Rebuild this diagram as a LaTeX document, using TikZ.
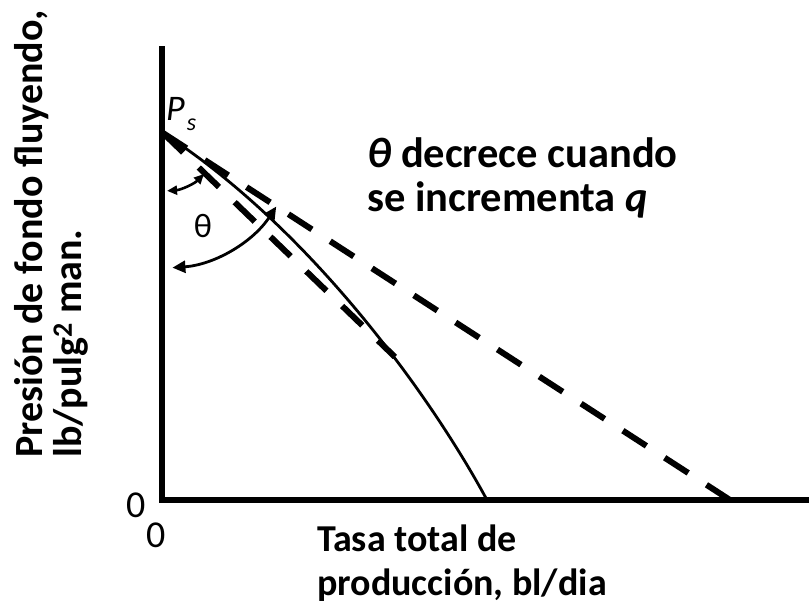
\documentclass[tikz,border=0pt]{standalone}
\usepackage{fontspec}
\setmainfont{Carlito}
\usetikzlibrary{arrows.meta}
\begin{document}
\begin{tikzpicture}[x=1pt,y=-1pt,
  axisline/.style={line width=6pt, line join=miter},
  tangent/.style={line width=6pt, dash pattern=on 28pt off 21.8pt},
  ipr/.style={line width=2.8pt},
  bigarrow/.style={line width=2.8pt, {Triangle[length=13pt,width=12pt]}-{Triangle[length=13pt,width=12pt]}},
  smallarrow/.style={line width=2.6pt, {Triangle[length=10pt,width=9pt]}-{Triangle[length=10pt,width=9pt]}},
  lbl/.style={font=\fontsize{40}{46}\selectfont\bfseries, inner sep=0pt, anchor=base west},
  xlbl/.style={font=\fontsize{38}{44}\selectfont\bfseries, inner sep=0pt, anchor=base west},
  note/.style={font=\fontsize{42.5}{48}\selectfont\bfseries, inner sep=0pt, anchor=base west},
  num/.style={font=\fontsize{38}{44}\selectfont, inner sep=0pt, anchor=base west}
]
\useasboundingbox (0,0) rectangle (809,616);
% points
\coordinate (top) at (162,46);
\coordinate (orig) at (162,500);
\coordinate (right) at (815,500);
\coordinate (Ps) at (163,133);
\coordinate (qmax) at (487,500);
\coordinate (qlong) at (730,500);
\coordinate (qsteep) at (395,357);
% axes
\draw[axisline] (top) -- (orig) -- (right);
% tangent lines
\draw[tangent] (Ps) -- (qlong);
\draw[tangent] (Ps) -- (qsteep);
% IPR curve
\draw[ipr] (Ps) .. controls (313,230) and (433,400) .. (qmax);
% angle arrows
\draw[bigarrow] ([shift={(33:135)}]Ps) arc[start angle=33, end angle=86, radius=135];
\draw[smallarrow] ([shift={(45:58)}]Ps) arc[start angle=45, end angle=86, radius=58];
% labels
\node[font=\fontsize{34}{40}\selectfont, inner sep=0pt] (th) at (203,226) {θ};
\node[inner sep=0pt, anchor=base west] (pslbl) at (166,120) {\fontsize{36}{40}\selectfont\itshape P\hspace{2pt}\raisebox{-10pt}{\fontsize{24}{28}\selectfont s}};
\node[note] (t1) at (367,167) {\textit{θ} decrece cuando};
\node[note] (t2) at (367,211) {se incrementa \textit{q}};
\node[xlbl] (x1) at (317,551) {Tasa total de};
\node[xlbl] (x2) at (317,595) {producción, bl/dia};
\node[lbl, rotate=90] (y1) at (42,458) {Presión de fondo fluyendo,};
\node[lbl, rotate=90] (y2) at (81,458) {lb/pulg\textsuperscript{2} man.};
\node[num] (z1) at (126,517) {0};
\node[num] (z2) at (146,547) {0};
\end{tikzpicture}
\end{document}
